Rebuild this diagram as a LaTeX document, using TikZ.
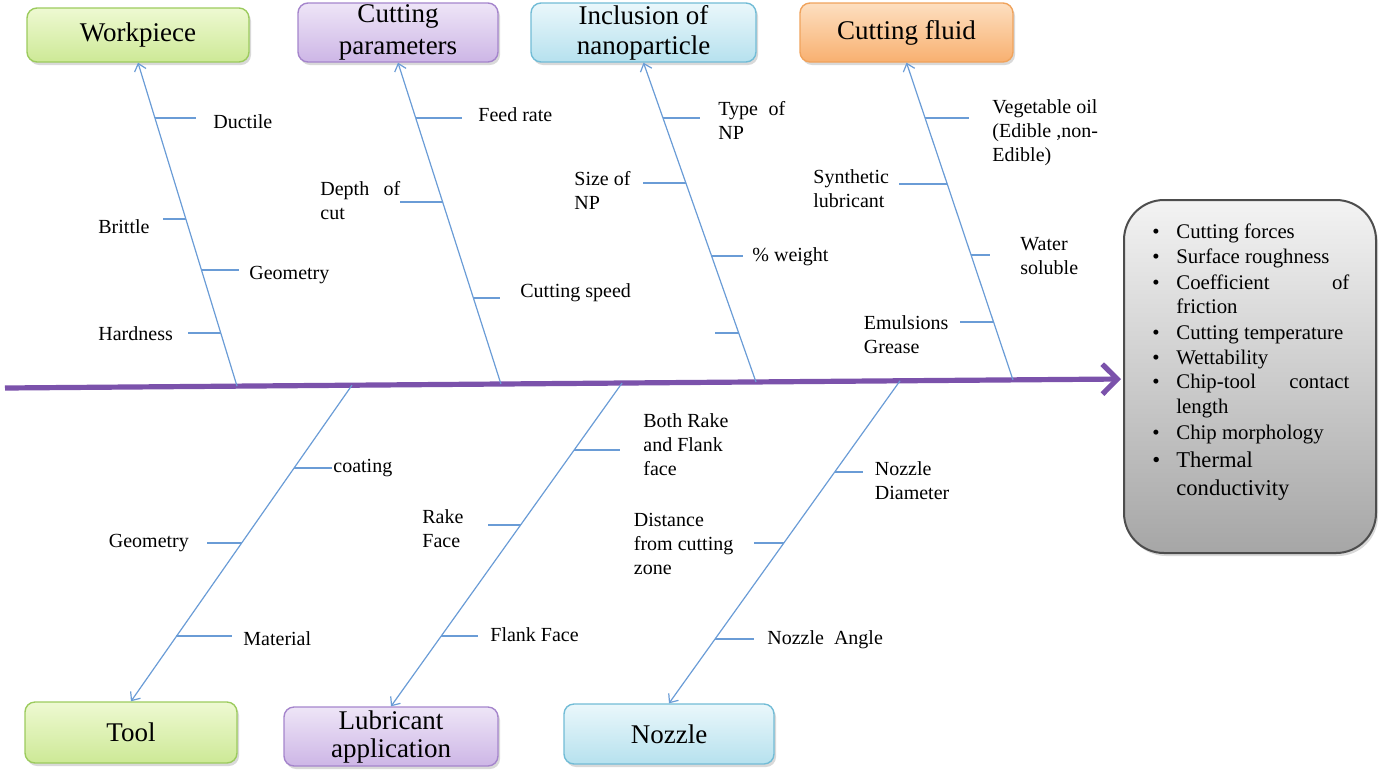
\documentclass[tikz,border=0pt]{standalone}
\usepackage{fontspec}
\setmainfont{Liberation Serif}
\usetikzlibrary{arrows.meta,calc,shadows}
\definecolor{bonec}{HTML}{6A9CD6}
\definecolor{spinec}{HTML}{7B52AB}
\definecolor{gtop}{HTML}{EEF9D2}\definecolor{gbot}{HTML}{CDE996}\definecolor{gdraw}{HTML}{9CCB5E}
\definecolor{ptop}{HTML}{EEE5F7}\definecolor{pbot}{HTML}{CDB6E6}\definecolor{pdraw}{HTML}{A585CC}
\definecolor{btop}{HTML}{EAF7FB}\definecolor{bbot}{HTML}{B6E1EE}\definecolor{bdraw}{HTML}{72BCD6}
\definecolor{otop}{HTML}{FDDFC0}\definecolor{obot}{HTML}{F8B070}\definecolor{odraw}{HTML}{F0A35C}
\definecolor{rtop}{HTML}{F3F3F3}\definecolor{rbot}{HTML}{A6A6A6}\definecolor{rdraw}{HTML}{4D4D4D}
\begin{document}
\begin{tikzpicture}[x=0.5pt,y=-0.5pt,
  cause/.style={rounded corners=5pt, line width=0.7pt, inner sep=0pt, align=center,
    font=\fontsize{13.5}{16.5}\selectfont,
    drop shadow={shadow xshift=1pt,shadow yshift=-1.5pt,opacity=0.3}},
  greenbox/.style={cause, draw=gdraw, top color=gtop, bottom color=gbot},
  purplebox/.style={cause, draw=pdraw, top color=ptop, bottom color=pbot},
  bluebox/.style={cause, draw=bdraw, top color=btop, bottom color=bbot},
  orangebox/.style={cause, draw=odraw, top color=otop, bottom color=obot},
  bone/.style={draw=bonec, line width=0.6pt, -{Straight Barb[length=3.5pt,width=6pt]}},
  spine/.style={draw=spinec, line width=2.6pt, -{Straight Barb[length=7.5pt,width=15pt]}},
  tick/.style={draw=bonec, line width=1pt},
  lbl/.style={anchor=west, inner sep=0pt, align=left, font=\fontsize{10}{12}\selectfont},
  itm/.style={anchor=base west, inner sep=0pt, font=\fontsize{10.4}{12.5}\selectfont},
  bigitm/.style={anchor=base west, inner sep=0pt, font=\fontsize{11.3}{14}\selectfont},
]
\useasboundingbox (0,0) rectangle (1382,778);

% cause boxes
\node[greenbox, minimum width=111pt, minimum height=27pt] (wp) at (138,35) {Workpiece};
\node[purplebox, minimum width=100pt, minimum height=29.5pt] (cp) at (398,32.5) {\raisebox{-3.5pt}{\shortstack{Cutting\\[2.5pt]parameters}}};
\node[bluebox, minimum width=112.5pt, minimum height=29.5pt] (np) at (643.5,32.5) {\raisebox{-3.5pt}{\shortstack{Inclusion of\\[2.5pt]nanoparticle}}};
\node[orangebox, minimum width=106.5pt, minimum height=29.5pt] (cf) at (906.5,32.5) {Cutting fluid};
\node[greenbox, minimum width=106pt, minimum height=30.5pt] (tool) at (131,732.5) {Tool};
\node[purplebox, minimum width=107pt, minimum height=29.5pt] (lub) at (391,736.5) {\raisebox{-1.5pt}{\shortstack{Lubricant\\[1.5pt]application}}};
\node[bluebox, minimum width=105pt, minimum height=30pt] (noz) at (669,734) {Nozzle};

% effect box
\node[draw=rdraw, line width=1pt, rounded corners=20pt, top color=rtop, bottom color=rbot,
  minimum width=126pt, minimum height=176.5pt,
  drop shadow={shadow xshift=1pt,shadow yshift=-1.5pt,opacity=0.3}] (res) at (1250,376.5) {};
\node[itm] (i1) at (1152,238) {\makebox[12pt][l]{\textbullet}Cutting forces};
\node[itm] (i2) at (1152,263) {\makebox[12pt][l]{\textbullet}Surface roughness};
\node[itm] (i3) at (1152,289) {\makebox[12pt][l]{\textbullet}\makebox[86.5pt][s]{Coefficient\hfill of}};
\node[itm] (i3b) at (1176,313) {friction};
\node[itm] (i4) at (1152,339) {\makebox[12pt][l]{\textbullet}Cutting temperature};
\node[itm] (i5) at (1152,364) {\makebox[12pt][l]{\textbullet}Wettability};
\node[itm] (i6) at (1152,388) {\makebox[12pt][l]{\textbullet}\makebox[86.5pt][s]{Chip-tool\hfill contact}};
\node[itm] (i6b) at (1176,413) {length};
\node[itm] (i7) at (1152,439) {\makebox[12pt][l]{\textbullet}Chip morphology};
\node[bigitm] (i8) at (1152,467) {\makebox[12pt][l]{\textbullet}Thermal};
\node[bigitm] (i8b) at (1176,495) {conductivity};

% spine
\coordinate (sp0) at (5,388);
\coordinate (sp1) at (1121,379);
\draw[spine] (sp0) -- (sp1);

% bone roots on the spine
\coordinate (r1) at ($(sp0)!0.2079!(sp1)$);
\coordinate (r2) at ($(sp0)!0.4444!(sp1)$);
\coordinate (r3) at ($(sp0)!0.6729!(sp1)$);
\coordinate (r4) at ($(sp0)!0.9032!(sp1)$);
\coordinate (r5) at ($(sp0)!0.3109!(sp1)$);
\coordinate (r6) at ($(sp0)!0.5529!(sp1)$);
\coordinate (r7) at ($(sp0)!0.8020!(sp1)$);

\draw[bone] (r1) -- (wp.south);
\draw[bone] (r2) -- (cp.south);
\draw[bone] (r3) -- (np.south);
\draw[bone] (r4) -- (cf.south);
\draw[bone] (r5) -- (tool.north);
\draw[bone] (r6) -- (lub.north);
\draw[bone] (r7) -- (noz.north);

% Workpiece
\coordinate (a1) at ($(r1)!0.830!(wp.south)$);
\coordinate (a2) at ($(r1)!0.5156!(wp.south)$);
\coordinate (a3) at ($(r1)!0.358!(wp.south)$);
\coordinate (a4) at ($(r1)!0.1638!(wp.south)$);
\draw[tick] (a1) -- ++(41,0);
\draw[tick] (a2) -- ++(-23,0);
\draw[tick] (a3) -- ++(37,0);
\draw[tick] (a4) -- ++(-33,0);
\node[lbl] (la1) at (213,122) {Ductile};
\node[lbl] (la2) at (98,227) {Brittle};
\node[lbl] (la3) at (249,275) {Geometry};
\node[lbl] (la4) at (98,334) {Hardness};

% Cutting parameters
\coordinate (b1) at ($(r2)!0.829!(cp.south)$);
\coordinate (b2) at ($(r2)!0.568!(cp.south)$);
\coordinate (b3) at ($(r2)!0.267!(cp.south)$);
\draw[tick] (b1) -- ++(46,0);
\draw[tick] (b2) -- ++(-42,0);
\draw[tick] (b3) -- ++(27,0);
\node[lbl] (lb1) at (478,115) {Feed rate};
\node[lbl] (lb2) at (320,200.5) {\makebox[40pt][s]{Depth\hfill of}\\cut};
\node[lbl] (lb3) at (520,293) {Cutting speed};

% Inclusion of nanoparticle
\coordinate (c1) at ($(r3)!0.828!(np.south)$);
\coordinate (c2) at ($(r3)!0.6218!(np.south)$);
\coordinate (c3) at ($(r3)!0.3936!(np.south)$);
\coordinate (c4) at ($(r3)!0.1529!(np.south)$);
\draw[tick] (c1) -- ++(37,0);
\draw[tick] (c2) -- ++(-43,0);
\draw[tick] (c3) -- ++(31,0);
\draw[tick] (c4) -- ++(-24,0);
\node[lbl] (lc1) at (718,120) {\makebox[33.5pt][s]{Type\hfill of}\\NP};
\node[lbl] (lc2) at (574,190) {Size of\\NP};
\node[lbl] (lc3) at (752,257) {\% weight};

% Cutting fluid
\coordinate (d1) at ($(r4)!0.827!(cf.south)$);
\coordinate (d2) at ($(r4)!0.6166!(cf.south)$);
\coordinate (d3) at ($(r4)!0.3929!(cf.south)$);
\coordinate (d4) at ($(r4)!0.1815!(cf.south)$);
\draw[tick] (d1) -- ++(44,0);
\draw[tick] (d2) -- ++(-48,0);
\draw[tick] (d3) -- ++(19,0);
\draw[tick] (d4) -- ++(-34,0);
\node[lbl] (ld1) at (992,133) {Vegetable oil\\(Edible ,non-\\Edible)};
\node[lbl] (ld2) at (813,188.5) {Synthetic\\lubricant};
\node[lbl] (ld3) at (1020,256.5) {Water\\soluble};
\node[lbl] (ld4) at (863.5,335) {Emulsions\\Grease};

% Tool
\coordinate (e1) at ($(r5)!0.2614!(tool.north)$);
\coordinate (e2) at ($(r5)!0.4981!(tool.north)$);
\coordinate (e3) at ($(r5)!0.7948!(tool.north)$);
\draw[tick] (e1) -- ++(38,0);
\draw[tick] (e2) -- ++(-35,0);
\draw[tick] (e3) -- ++(56,0);
\node[lbl] (le1) at (333,468) {coating};
\node[lbl] (le2) at (108.5,543) {Geometry};
\node[lbl] (le3) at (243,639) {Material};

% Lubricant application
\coordinate (f1) at ($(r6)!0.2068!(lub.north)$);
\coordinate (f2) at ($(r6)!0.4383!(lub.north)$);
\coordinate (f3) at ($(r6)!0.7824!(lub.north)$);
\draw[tick] (f1) -- ++(46,0);
\draw[tick] (f2) -- ++(-33,0);
\draw[tick] (f3) -- ++(37,0);
\node[lbl] (lf1) at (643,445) {Both Rake\\and Flank\\face};
\node[lbl] (lf2) at (422,529) {Rake\\Face};
\node[lbl] (lf3) at (490,635) {Flank Face};

% Nozzle
\coordinate (g1) at ($(r7)!0.2822!(noz.north)$);
\coordinate (g2) at ($(r7)!0.5034!(noz.north)$);
\coordinate (g3) at ($(r7)!0.802!(noz.north)$);
\draw[tick] (g1) -- ++(28,0);
\draw[tick] (g2) -- ++(-30,0);
\draw[tick] (g3) -- ++(39,0);
\node[lbl] (lg1) at (874.5,481) {Nozzle\\Diameter};
\node[lbl] (lg2) at (633.5,543.5) {Distance\\from cutting\\zone};
\node[lbl] (lg3) at (767,640) {Nozzle\ \ Angle};
\end{tikzpicture}
\end{document}
